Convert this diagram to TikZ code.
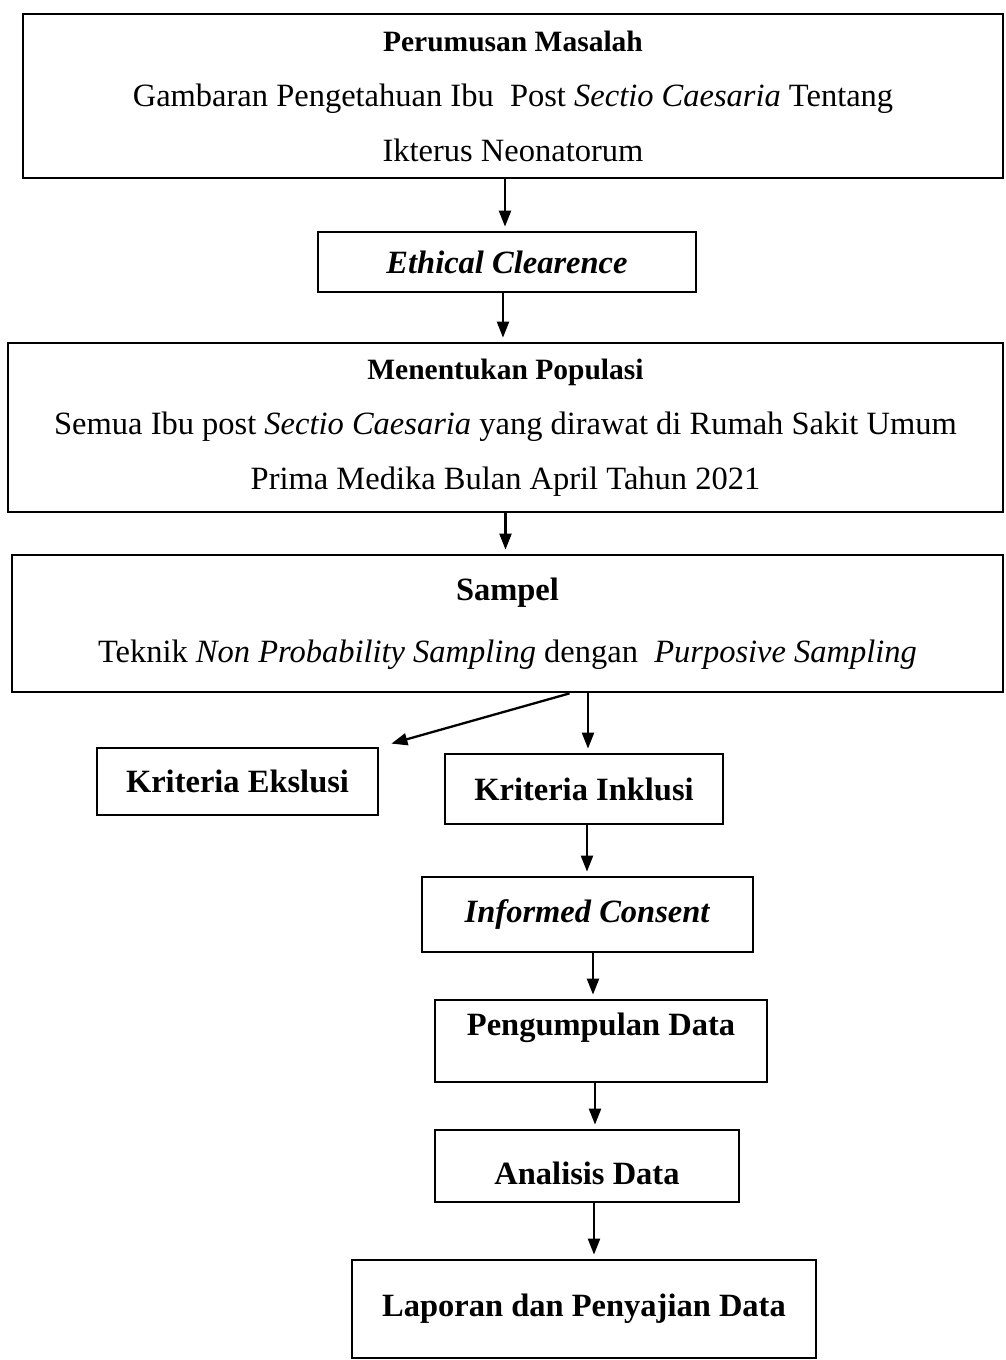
\documentclass[tikz,border=0pt]{standalone}
\usepackage{fontspec}
\setmainfont{Liberation Serif}
\usetikzlibrary{arrows.meta}

\tikzset{
  kotak/.style={draw, line width=2.8pt, align=center, inner sep=0pt},
  panah/.style={line width=2.3pt, -{Triangle[length=16pt,width=12pt]}, shorten >=4pt},
}
\newcommand{\judul}{\fontsize{29.5}{55}\selectfont\bfseries}

\begin{document}
\begin{tikzpicture}[x=1pt,y=-1pt,font=\fontsize{32.5}{55}\selectfont]
        \useasboundingbox (0,0) rectangle (1005,1360);

        \node[kotak, minimum width=980pt, minimum height=164pt] (masalah) at (513,96)
            {{\judul Perumusan Masalah}\\ Gambaran Pengetahuan Ibu\ \ Post \textit{Sectio Caesaria} Tentang\\ Ikterus Neonatorum};
        \node[kotak, minimum width=378pt, minimum height=60pt] (ethical) at (507,262) {\textbf{\textit{Ethical Clearence}}};
        \node[kotak, minimum width=995pt, minimum height=169pt] (populasi) at (505.5,427.5)
            {{\judul Menentukan Populasi}\\ Semua Ibu post \textit{Sectio Caesaria} yang dirawat di Rumah Sakit Umum\\ Prima Medika Bulan April Tahun 2021};
        \node[kotak, minimum width=991pt, minimum height=137pt] (sampel) at (507.5,623.5)
            {\textbf{Sampel}\\[7pt] Teknik \textit{Non Probability Sampling} dengan\ \ \textit{Purposive Sampling}};

        \node[kotak, minimum width=281pt, minimum height=67pt] (eksklusi) at (237.5,781.5) {\textbf{Kriteria Ekslusi}};
        \node[kotak, minimum width=278pt, minimum height=70pt] (inklusi) at (584,789) {\textbf{Kriteria Inklusi}};
        \node[kotak, minimum width=331pt, minimum height=75pt] (informed) at (587.5,914.5) {\textbf{\textit{Informed Consent}}};
        \node[kotak, minimum width=332pt, minimum height=82pt, text height=24pt, text depth=36pt] (pengumpulan) at (601,1041) {\textbf{Pengumpulan Data}};
        \node[kotak, minimum width=304pt, minimum height=72pt, text height=36pt, text depth=0pt] (analisis) at (587,1166) {\textbf{Analisis Data}};
        \node[kotak, minimum width=464pt, minimum height=98pt] (laporan) at (584,1309) {\textbf{Laporan dan Penyajian Data}};

        \draw[panah] (masalah.south -| 505,0) -- (ethical.north -| 505,0);
        \draw[panah] (ethical.south -| 503,0) -- (populasi.north -| 503,0);
        \draw[panah] (populasi.south) -- (populasi.south |- sampel.north);
        \draw[panah] (sampel.south -| 588,0) -- (inklusi.north -| 588,0);
        \draw[panah, shorten >=0pt] ([xshift=62pt]sampel.south) -- ([xshift=12pt,yshift=3pt]eksklusi.north east);
        \draw[panah] (inklusi.south -| 587,0) -- (informed.north -| 587,0);
        \draw[panah] (informed.south -| 593,0) -- (pengumpulan.north -| 593,0);
        \draw[panah] (pengumpulan.south -| 595,0) -- (analisis.north -| 595,0);
        \draw[panah] (analisis.south -| 594,0) -- (laporan.north -| 594,0);

\end{tikzpicture}
\end{document}
